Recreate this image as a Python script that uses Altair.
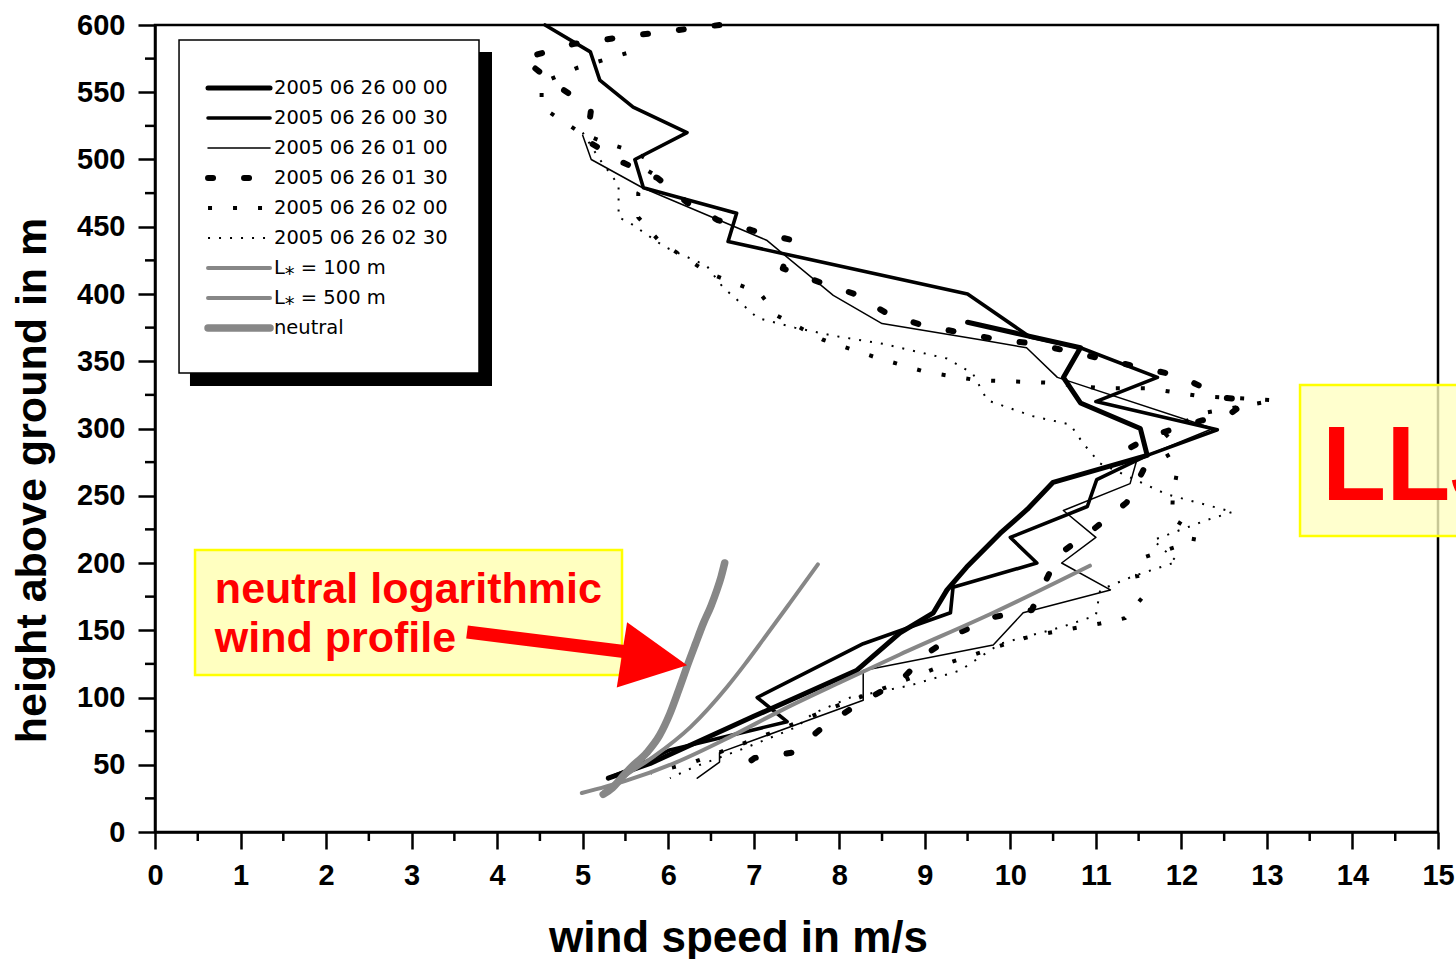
import altair as alt
import pandas as pd

# ---------------- data ----------------
S_NAMES = ["2005 06 26 00 00", "2005 06 26 00 30", "2005 06 26 01 00",
           "2005 06 26 01 30", "2005 06 26 02 00", "2005 06 26 02 30",
           "L\u204e = 100 m", "L\u204e = 500 m", "neutral"]

A_v = [9.5, 10.82, 10.62, 10.82, 11.52, 11.6, 10.5, 10.2, 9.88, 9.49, 9.26, 9.1, 8.71, 8.2, 7.0, 5.79, 5.3]
A_h = [379, 360, 338, 319, 300, 280, 260, 240, 222, 197, 180, 163, 148, 120, 86, 51, 40]

B_v = [4.56, 5.09, 5.2, 5.59, 6.22, 5.61, 5.71, 6.8, 6.7, 9.5, 10.23, 10.82, 11.72, 11.0, 12.42, 11.6,
       11.01, 10.9, 10.0, 10.31, 9.33, 9.3, 8.28, 7.04, 7.39, 6.02, 5.6, 5.3]
B_h = [600, 580, 559, 539, 520, 500, 479, 460, 439, 400, 368, 360, 338, 320, 299, 280,
       262, 242, 219, 200, 182, 163, 140, 100, 82, 61, 48, 40]

C_v = [5.0, 5.1, 5.7, 7.15, 7.93, 8.5, 9.65, 10.19, 10.55, 12.37, 11.48, 11.4, 10.62, 11.0, 10.6,
       11.17, 10.15, 9.8, 8.28, 8.28, 6.6, 6.6, 6.34]
C_h = [518, 500, 479, 440, 399, 378, 366, 360, 338, 300, 277, 259, 239, 219, 200,
       180, 163, 139, 120, 98, 59, 52, 40]

D_v = [6.6, 5.7, 4.9, 4.3, 4.7, 5.1, 5.05, 5.46, 5.88, 6.22, 6.58, 7.0, 7.45, 7.34, 7.76, 8.18, 8.6,
       9.02, 9.45, 9.86, 10.29, 11.13, 11.55, 11.98, 12.49, 12.78, 12.55, 12.24, 11.67, 11.38, 11.57,
       11.36, 10.99, 10.56, 10.25, 9.82, 9.39, 9.03, 8.71, 8.24, 7.81, 7.45, 7.01, 6.7]
D_h = [600, 593, 586, 575, 555, 538, 514, 498, 486, 468, 455, 447, 440, 419, 409, 400, 384,
       376, 371, 366, 363, 351, 345, 339, 323, 321, 310, 306, 295, 285, 271,
       245, 226, 206, 165, 160, 148, 133, 112, 96, 78, 59, 55, 41]

E_v = [5.51, 4.93, 4.52, 4.52, 4.97, 5.24, 5.59, 5.85, 5.65, 5.65, 5.9, 6.49, 7.07, 7.27, 7.81, 8.42,
       9.01, 9.6, 10.46, 11.05, 11.6, 12.22, 13.1, 12.3, 11.96, 11.75, 11.95, 11.9, 11.89, 12.16,
       12.14, 11.84, 11.55, 11.48, 11.54, 11.34, 11.05, 10.44, 10.15, 9.29, 9.02, 8.4, 7.9, 7.3,
       6.8, 6.3, 5.8]
E_h = [579, 568, 557, 539, 520, 513, 506, 497, 475, 457, 439, 415, 401, 384, 366, 353,
       342, 336, 334, 330, 330, 324, 321, 312, 303, 290, 268, 250, 233, 223,
       216, 210, 204, 191, 174, 159, 155, 148, 144, 126, 119, 104, 92, 76,
       64, 52, 44]

F_v = [5.0, 5.2, 5.42, 5.42, 5.55, 5.96, 6.45, 6.64, 7.05, 7.48, 7.93, 8.51, 9.26, 9.56, 9.73, 10.27,
       10.7, 10.85, 11.05, 11.83, 12.6, 12.3, 11.67, 11.95, 11.43, 11.05, 11.0, 10.58, 9.88, 9.41,
       8.83, 8.13, 7.69, 7.5, 6.88, 6.29, 6.02]
F_h = [520, 500, 481, 457, 453, 435, 421, 405, 382, 375, 369, 363, 352, 341, 321, 309,
       303, 289, 274, 251, 238, 232, 217, 201, 190, 180, 161, 152, 140, 120,
       109, 100, 88, 78, 62, 48, 40]

L100_v = [4.99, 5.5, 6.1, 6.7, 7.34, 8.0, 8.71, 9.8, 10.93]
L100_h = [29, 38, 52, 70, 91, 111, 132, 163, 198]
L500_v = [5.25, 5.5, 5.83, 6.26, 6.69, 6.9, 7.11, 7.42, 7.75]
L500_h = [30, 42, 56, 78, 108, 125, 143, 170, 199]
NEU_v = [5.24, 5.35, 5.45, 5.55, 5.75, 5.9, 6.02, 6.12, 6.22, 6.32, 6.41, 6.5, 6.57, 6.62, 6.66]
NEU_h = [28, 33, 40, 47, 59, 72, 88, 105, 123, 140, 155, 168, 180, 190, 200]

X_TICKS = list(range(0, 16))
X_MINOR = [i + 0.5 for i in range(15)]
Y_TICKS = list(range(0, 601, 50))
Y_MINOR = list(range(25, 600, 50))

# ---------------- styles ----------------
GRAY = "#878787"
STYLES = [
    dict(color="black", width=5.0, dash=None, cap="round"),
    dict(color="black", width=3.6, dash=None, cap="round"),
    dict(color="black", width=1.5, dash=None, cap="round"),
    dict(color="black", width=6.0, dash=[5, 31], cap="round"),
    dict(color="black", width=4.0, dash=[4, 21], cap="butt"),
    dict(color="black", width=2.0, dash=[2, 9], cap="butt"),
    dict(color=GRAY, width=4.0, dash=None, cap="round"),
    dict(color=GRAY, width=4.0, dash=None, cap="round"),
    dict(color=GRAY, width=7.5, dash=None, cap="round"),
]
SERIES = [(A_v, A_h), (B_v, B_h), (C_v, C_h), (D_v, D_h), (E_v, E_h), (F_v, F_h),
          (L100_v, L100_h), (L500_v, L500_h), (NEU_v, NEU_h)]

# annotation / legend layout in data units
LEG_BOX = dict(v=0.281, v2=3.788, h=588.8, h2=341.3)
LEG_SHADOW = dict(v=0.409, v2=3.94, h=579.9, h2=331.6)
LEG_ROWS = [553.2, 530.9, 508.6, 486.2, 463.9, 441.6, 419.3, 397.0, 374.7]
LEG_LINE = [0.62, 1.345]
LEG_TEXT_V = 1.391

NEU_BOX = dict(v=0.468, v2=5.46, h=209.7, h2=116.7)
NEU_TEXT = [("neutral logarithmic", 0.70, 170.3), ("wind profile", 0.70, 133.8)]
ARROW_SHAFT = dict(v=3.648, v2=5.60, h=148.7, h2=133.3)
ARROW_HEAD = dict(v=5.84, h=127.9)
LLJ_BOX = dict(v=13.387, v2=15.9, h=332.3, h2=220.1)
LLJ_TEXT = ("LLJ", 13.644, 246.8)

W, H = 1283, 807
xs = alt.Scale(domain=[0, 15], nice=False, zero=False)
ys = alt.Scale(domain=[0, 600], nice=False, zero=False)

LABEL_FONT = "Liberation Sans"

x_axis = alt.Axis(values=X_TICKS, title="wind speed in m/s", grid=False,
                  tickSize=17, tickWidth=2.5, domainWidth=2.5, domainColor="black",
                  tickColor="black", labelColor="black", labelFont=LABEL_FONT,
                  labelFontSize=29, labelFontWeight="bold", labelPadding=12,
                  labelFlush=False, titleFont=LABEL_FONT, titleFontSize=44,
                  titleFontWeight="bold", titleColor="black", titleX=583, titleY=119,
                  titleBaseline="alphabetic", titleAnchor="middle", titleAlign="center")
y_axis = alt.Axis(values=Y_TICKS, title="height above ground in m", grid=False,
                  tickSize=17, tickWidth=2.5, domainWidth=2.5, domainColor="black",
                  tickColor="black", labelColor="black", labelFont=LABEL_FONT,
                  labelFontSize=29, labelFontWeight="bold", labelPadding=13,
                  labelFlush=False, titleFont=LABEL_FONT, titleFontSize=43,
                  titleFontWeight="bold", titleColor="black", titleX=-110, titleY=455,
                  titleAngle=270, titleBaseline="alphabetic", titleAlign="center")


def XE(field):
    return alt.X(f"{field}:Q", scale=xs, axis=x_axis, title="wind speed in m/s")


def YE(field):
    return alt.Y(f"{field}:Q", scale=ys, axis=y_axis, title="height above ground in m")


def line_layer(v, h, st, interp="linear"):
    df = pd.DataFrame({"speed": v, "height": h, "i": list(range(len(v)))})
    kw = dict(color=st["color"], strokeWidth=st["width"], strokeCap=st["cap"],
              strokeJoin="round", clip=False, interpolate=interp)
    if st["dash"] is not None:
        kw["strokeDash"] = st["dash"]
    return alt.Chart(df).mark_line(**kw).encode(
        x=XE("speed"), y=YE("height"), order=alt.Order("i:Q"))


def rect_layer(box, **kw):
    df = pd.DataFrame([box])
    return alt.Chart(df).mark_rect(**kw).encode(
        x=XE("v"), x2="v2:Q", y=YE("h"), y2="h2:Q")


def text_layer(items, **kw):
    df = pd.DataFrame(items, columns=["t", "v", "h"])
    return alt.Chart(df).mark_text(**kw).encode(x=XE("v"), y=YE("h"), text="t:N")


layers = []
# data lines (black first, gray on top; the gray model curves are smooth)
for k, ((v, h), st) in enumerate(zip(SERIES, STYLES)):
    layers.append(line_layer(v, h, st, interp="monotone" if k >= 6 else "linear"))

# minor ticks
xm = pd.DataFrame({"speed": X_MINOR})
layers.append(alt.Chart(xm).mark_rule(color="black", strokeWidth=2.5).encode(
    x=XE("speed"), y=alt.value(H), y2=alt.value(H + 9)))
ym = pd.DataFrame({"height": Y_MINOR})
layers.append(alt.Chart(ym).mark_rule(color="black", strokeWidth=2.5).encode(
    y=YE("height"), x=alt.value(0), x2=alt.value(-10)))

# legend
layers.append(rect_layer(LEG_SHADOW, color="black"))
layers.append(rect_layer(LEG_BOX, fill="white", stroke="black", strokeWidth=1.5))
for row_h, st in zip(LEG_ROWS, STYLES):
    layers.append(line_layer(LEG_LINE, [row_h, row_h], st))
layers.append(text_layer([(n, LEG_TEXT_V, r) for n, r in zip(S_NAMES, LEG_ROWS)],
                         align="left", baseline="middle", font="DejaVu Sans",
                         fontSize=19.5, color="black"))

# neutral annotation
layers.append(rect_layer(NEU_BOX, fill="#FFFFC0", stroke="#FFFF00", strokeWidth=2.5))
layers.append(text_layer(NEU_TEXT, align="left", baseline="alphabetic", font=LABEL_FONT,
                         fontSize=43, fontWeight="bold", color="#FF0000"))
shaft = pd.DataFrame([ARROW_SHAFT])
layers.append(alt.Chart(shaft).mark_rule(color="#FF0000", strokeWidth=13, strokeCap="butt").encode(
    x=XE("v"), x2="v2:Q", y=YE("h"), y2="h2:Q"))
head = pd.DataFrame([ARROW_HEAD])
layers.append(alt.Chart(head).mark_point(shape="M1,0L-1,-1L-1,1Z", filled=True, size=4356,
                                         angle=9, color="#FF0000", opacity=1, strokeWidth=0).encode(
    x=XE("v"), y=YE("h")))

# LLJ annotation
layers.append(rect_layer(LLJ_BOX, fill="#FFFFC0", fillOpacity=0.78, stroke="#FFFF00",
                         strokeWidth=2.5))
layers.append(text_layer([LLJ_TEXT], align="left", baseline="alphabetic", font=LABEL_FONT,
                         fontSize=105, fontWeight="bold", color="#FF0000"))

chart = alt.layer(*layers).properties(
    width=W, height=H,
    padding={"left": 155, "top": 25, "right": 18, "bottom": 127},
    autosize=alt.AutoSizeParams(type="none"),
    background="white",
).configure_view(stroke="black", strokeWidth=2.5)

chart.save("out.html", embed_options={"renderer": "svg", "actions": False})
